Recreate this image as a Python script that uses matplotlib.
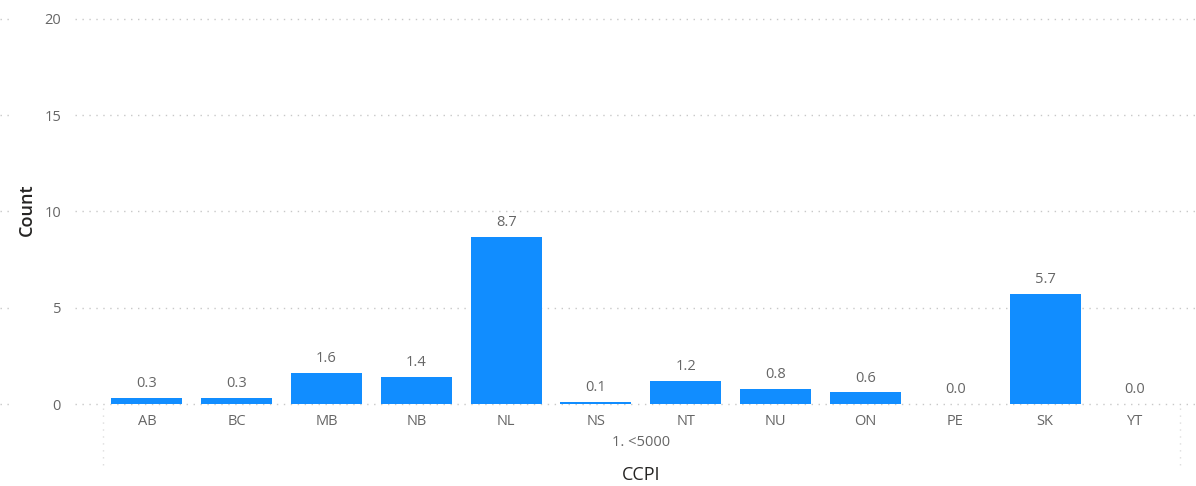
import matplotlib
matplotlib.use("Agg")
import matplotlib.pyplot as plt
from matplotlib.lines import Line2D

provinces = ["AB", "BC", "MB", "NB", "NL", "NS", "NT", "NU", "ON", "PE", "SK", "YT"]
counts = [0.3, 0.3, 1.6, 1.4, 8.7, 0.1, 1.2, 0.8, 0.6, 0.0, 5.7, 0.0]
group_label = "1. <5000"
y_ticks = [0, 5, 10, 15, 20]

BAR = "#118DFF"
TXT = "#666666"
DARK = "#252423"
GRID = "#C8C8C8"

plt.rcParams["font.family"] = ["Open Sans", "DejaVu Sans"]

fig = plt.figure(figsize=(11.96, 4.86), dpi=100)
ax = fig.add_axes([75 / 1196, 1 - 404 / 486, 1 - 75 / 1196, (404 - 19) / 486])

x = list(range(len(provinces)))
ax.bar(x, counts, width=0.79, color=BAR, zorder=3)

for xi, v in zip(x, counts):
    ax.annotate(f"{v:.1f}", (xi, v), xytext=(0, 5), textcoords="offset points",
                ha="center", va="bottom", fontsize=10.5, color=TXT)

ax.set_ylim(0, 20)
ax.set_xlim(-0.80, 11.68)
ax.set_yticks(y_ticks)
ax.set_yticklabels([str(t) for t in y_ticks], fontsize=10.5, color=TXT)
ax.set_xticks(x)
ax.set_xticklabels(provinces, fontsize=10.5, color=TXT)
ax.tick_params(axis="both", length=0)
ax.tick_params(axis="y", pad=10)
ax.tick_params(axis="x", pad=7)

for t in y_ticks:
    ax.axhline(t, color=GRID, lw=1.0, ls=(0, (1, 4)), zorder=1, clip_on=False)

for s in ax.spines.values():
    s.set_visible(False)

# short dotted stubs at the far left of each gridline
for t in y_ticks:
    yf = ax.transData.transform((0, t))[1] / fig.bbox.height
    fig.add_artist(Line2D([0.0, 10 / 1196], [yf, yf], transform=fig.transFigure,
                          color=GRID, lw=1.0, ls=(0, (1, 4))))

# group boundary separators under the category axis
for px in (103, 1180):
    fig.add_artist(Line2D([px / 1196, px / 1196], [1 - 408 / 486, 1 - 465 / 486],
                          transform=fig.transFigure, color="#DDDDDD", lw=1.0,
                          ls=(0, (1, 4))))

ax.text(5.5, -0.10, group_label, transform=ax.get_xaxis_transform(),
        ha="center", va="center", fontsize=10.5, color=TXT)
ax.text(5.5, -0.185, "CCPI", transform=ax.get_xaxis_transform(),
        ha="center", va="center", fontsize=13, color=DARK)

fig.text(27 / 1196, 1 - 210 / 486, "Count", rotation=90, ha="center", va="center",
         fontsize=13, color=DARK, weight="semibold")

fig.savefig("out.png", dpi=100)
